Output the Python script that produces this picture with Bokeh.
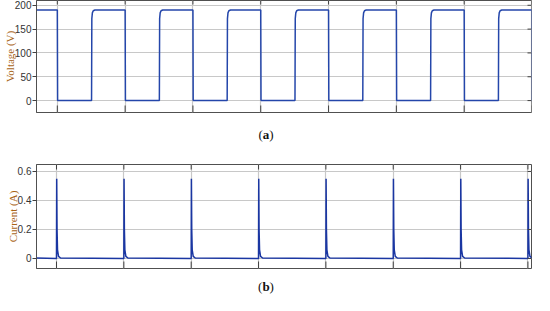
import math
from bokeh.plotting import figure
from bokeh.layouts import column
from bokeh.models import FixedTicker, Div
from bokeh.embed import file_html
from bokeh.resources import INLINE

# ---------------- data ----------------
time_ticks = [1, 2, 3, 4, 5, 6, 7, 8]
fall_times = [1, 2, 3, 4, 5, 6, 7, 8]                                # voltage falls / current spikes
rise_times = [1.505, 2.505, 3.505, 4.505, 5.505, 6.505, 7.505]      # voltage rises
v_high = 190
v_low = 0
fall_dt = [0.0, 0.004]
fall_v = [190, 0]
rise_dt = [0.0, 0.004, 0.012, 0.025, 0.05]
rise_v = [0, 172, 184, 188.5, 190]
spike_dt = [0.0, 0.003, 0.008, 0.015, 0.03, 0.06]
spike_i = [0.0, 0.55, 0.2, 0.06, 0.015, 0.003]
i_base = 0.003

volt_ticks = [0, 50, 100, 150, 200]
curr_ticks = [0, 0.2, 0.4, 0.6]
curr_tick_labels = ["0", "0.2", "0.4", "0.6"]

top_xrange = (0.693, 7.993)
bot_xrange = (0.703, 8.053)
volt_range = (-25, 210)
curr_range = (-0.069, 0.648)

# ---------------- build waveforms from the read values ----------------
events = [(f, "fall") for f in fall_times] + [(r, "rise") for r in rise_times]
events.sort()
vt, vv = [top_xrange[0]], [v_high]
for t0, kind in events:
    if kind == "fall":
        for d, v in zip(fall_dt, fall_v):
            vt.append(t0 + d); vv.append(v)
    else:
        for d, v in zip(rise_dt, rise_v):
            vt.append(t0 + d); vv.append(v)
vt.append(top_xrange[1]); vv.append(v_low)

it, iv = [bot_xrange[0]], [i_base]
for f in fall_times:
    for d, v in zip(spike_dt, spike_i):
        it.append(f + d); iv.append(v)
it.append(bot_xrange[1]); iv.append(i_base)

FRAME = "#505050"
GRID = "#c8c8c8"
TICKC = "#404040"
LBL = "#a86418"
W = 532


def style(p, xr, yr, yticks, ylabel, bottom_in, top_in, label_overrides=None, ylabel_standoff=-4):
    p.outline_line_color = FRAME
    p.outline_line_width = 1
    p.xgrid.grid_line_color = GRID
    p.ygrid.grid_line_color = GRID
    p.xgrid.grid_line_width = 1.2
    p.ygrid.grid_line_width = 1.2
    p.xgrid.ticker = FixedTicker(ticks=time_ticks)
    p.ygrid.ticker = FixedTicker(ticks=yticks)
    p.xaxis.visible = False
    # left axis
    ya = p.yaxis[0]
    ya.ticker = FixedTicker(ticks=yticks)
    ya.major_tick_in = 0
    ya.major_tick_out = 4
    ya.minor_tick_line_color = None
    ya.axis_line_color = FRAME
    ya.major_tick_line_color = TICKC
    ya.major_label_text_font = "Liberation Sans"
    ya.major_label_text_font_size = "10px"
    ya.major_label_text_color = "#333333"
    ya.major_label_standoff = 1
    if label_overrides:
        ya.major_label_overrides = label_overrides
    ya.axis_label = ylabel
    ya.axis_label_text_font = "Liberation Serif"
    ya.axis_label_text_font_size = "11px"
    ya.axis_label_text_font_style = "normal"
    ya.axis_label_text_color = LBL
    ya.axis_label_standoff = ylabel_standoff
    # inward tick marks on bottom, top and right edges of the box
    n = len(time_ticks)
    p.ray(x=time_ticks, y=[yr[0]] * n, length=bottom_in, length_units="screen",
          angle=math.pi / 2, line_color=TICKC, line_width=1)
    p.ray(x=time_ticks, y=[yr[1]] * n, length=top_in, length_units="screen",
          angle=-math.pi / 2, line_color=TICKC, line_width=1)
    m = len(yticks)
    p.ray(x=[xr[1]] * m, y=yticks, length=4, length_units="screen",
          angle=math.pi, line_color=TICKC, line_width=1)


pa = figure(width=W, height=116, x_range=top_xrange, y_range=volt_range,
            output_backend="svg", toolbar_location=None, margin=0,
            min_border_left=31, min_border_right=1, min_border_top=0, min_border_bottom=4)
pa.line(vt, vv, line_color="#2446aa", line_width=1.5)
style(pa, top_xrange, volt_range, volt_ticks, "Voltage (V)", 7, 4)

pb = figure(width=W, height=115, x_range=bot_xrange, y_range=curr_range,
            output_backend="svg", toolbar_location=None, margin=0,
            min_border_left=29, min_border_right=1, min_border_top=10, min_border_bottom=1)
pb.line(it, iv, line_color="#1a36a2", line_width=1.5)
style(pb, bot_xrange, curr_range, curr_ticks, "Current (A)", 7, 5,
      label_overrides={t: s for t, s in zip(curr_ticks, curr_tick_labels)})

cap_style = (f"text-align:center;font-family:'Liberation Serif';font-size:13px;color:#111;"
             f"width:{W}px;margin:0;padding:0;")
da = Div(text=f"<div style=\"{cap_style}height:38px;line-height:38px;\">(<b>a</b>)</div>",
         width=W, height=38, margin=0)
db = Div(text=f"<div style=\"{cap_style}height:25px;line-height:25px;position:relative;top:5px;\">(<b>b</b>)</div>",
         width=W, height=25, margin=0)

layout = column(pa, da, pb, db, spacing=0, margin=0)
open("out.html", "w").write(file_html(layout, INLINE))
